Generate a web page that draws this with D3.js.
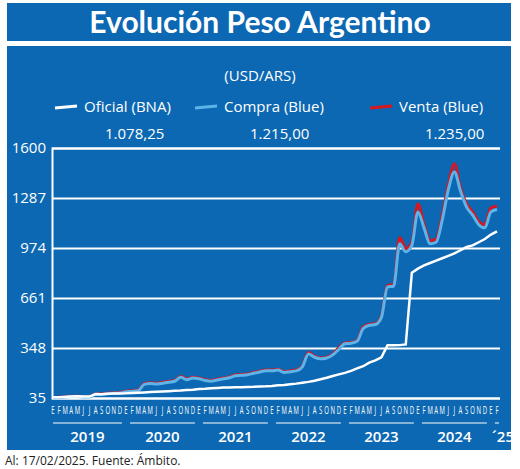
<!DOCTYPE html><html><head><meta charset="utf-8"><script src="https://cdn.jsdelivr.net/npm/d3@7"></script>
<style>body{margin:0;background:#fff}</style></head><body><svg id="c" width="520" height="469"></svg>
<script>
const months=["E","F","M","A","M","J","J","A","S","O","N","D"];
const years=["2019","2020","2021","2022","2023","2024","´25"];
const yTicks=[35,348,661,974,1287,1600];
// monthly values Jan 2019 .. Feb 2025
const oficial=[39,39,42,45,46,44,44,60,59,61,63,63, 64,66,68,70,72,74,76,78,80,82,85,87, 91,93,96,98,100,101,102,103,104,105,107,108, 110,115,117,121,125,131,136,143,152,162,173,183, 192,205,220,234,256,270,290,365,365,366,370,820, 845,865,880,895,910,925,940,960,980,990,1010,1030, 1058,1078.25];
const compra=[37,38,42,44,44,42,42,57,57,62,64,66, 74,76,80,120,125,122,128,134,140,165,150,160, 155,145,140,148,155,162,175,177,180,190,198,205, 205,210,195,200,205,230,310,290,280,285,305,340, 375,378,390,470,490,495,540,730,735,1000,950,990, 1200,1100,1000,1010,1150,1340,1450,1330,1230,1180,1120,1100, 1200,1215];
const venta=[38,40,44,46,46,44,44,60,60,65,67,69, 78,80,84,125,130,127,133,139,145,170,155,165, 160,150,145,152,160,166,180,182,185,195,203,210, 210,215,200,205,210,235,320,295,285,290,310,350, 380,382,395,480,495,500,550,740,745,1040,970,1010, 1250,1120,1020,1030,1180,1370,1500,1350,1250,1200,1140,1120, 1225,1235];
const legend=[{n:"Oficial (BNA)",c:"#ffffff",v:"1.078,25",x:55},{n:"Compra (Blue)",c:"#5db4e8",v:"1.215,00",x:195},{n:"Venta (Blue)",c:"#d7161f",v:"1.235,00",x:370}];
const svg=d3.select("#c"),BLUE="#0c68b2",F="'Open Sans',sans-serif";
svg.append("rect").attr("x",7).attr("y",3).attr("width",504).attr("height",38).attr("fill",BLUE);
svg.append("text").attr("x",260).attr("y",33).attr("text-anchor","middle").attr("fill","#fff").attr("font-family","Lato,sans-serif").attr("font-weight","bold").attr("font-size",30).text("Evolución Peso Argentino");
svg.append("rect").attr("x",7).attr("y",46).attr("width",504).attr("height",404).attr("fill",BLUE);
svg.append("text").attr("x",260).attr("y",81).attr("text-anchor","middle").attr("fill","#fff").attr("font-family",F).attr("font-size",15).text("(USD/ARS)");
legend.forEach(l=>{const g=svg.append("g");
 g.append("line").attr("x1",l.x).attr("x2",l.x+22).attr("y1",108).attr("y2",106).attr("stroke",l.c).attr("stroke-width",3);
 g.append("text").attr("x",l.x+29).attr("y",112).attr("fill","#fff").attr("font-family",F).attr("font-size",15).text(l.n);
 g.append("text").attr("x",l.x+(l.x==55?50:55)).attr("y",139).attr("fill","#fff").attr("font-family",F).attr("font-size",15).text(l.v);});
const x=d3.scaleLinear().domain([0,73]).range([53,497]);
const y=d3.scaleLinear().domain([35,1600]).range([398,148]);
const ga=svg.append("g").attr("transform","translate(52,0)").call(d3.axisLeft(y).tickValues(yTicks).tickSize(-448).tickFormat(d=>d));
ga.select(".domain").attr("stroke","#fff").attr("stroke-width",2);
ga.selectAll(".tick line").attr("stroke","#fff").attr("stroke-width",2);
ga.selectAll(".tick text").attr("fill","#fff").attr("font-family",F).attr("font-size",15).attr("x",-6);
const line=d3.line().x((d,i)=>x(i)).y(d=>y(d)).curve(d3.curveMonotoneX);
svg.append("path").attr("d",line(venta)).attr("fill","none").attr("stroke","#d7161f").attr("stroke-width",3);
svg.append("path").attr("d",line(compra)).attr("fill","none").attr("stroke","#5db4e8").attr("stroke-width",3);
svg.append("path").attr("d",d3.line().x((d,i)=>x(i)).y(d=>y(d))(oficial)).attr("fill","none").attr("stroke","#fff").attr("stroke-width",2.5);
for(let i=0;i<74;i++)svg.append("text").attr("x",x(i)).attr("y",414).attr("text-anchor","middle").attr("fill","#fff").attr("font-family",F).attr("font-size",10).attr("transform",`translate(${x(i)},0) scale(0.6,1) translate(${-x(i)},0)`).text(months[i%12]);
years.forEach((yr,k)=>{const a=x(k*12)+(k?4:0),b=Math.min(x(k*12+11)+2,x(73)+2);
 svg.append("line").attr("x1",a).attr("x2",b).attr("y1",423).attr("y2",423).attr("stroke","#fff").attr("stroke-width",1);
 svg.append("text").attr("x",k==6?503:(a+b)/2).attr("y",442).attr("text-anchor","middle").attr("fill","#fff").attr("font-family",F).attr("font-weight",600).attr("font-size",15).text(yr);});
svg.append("text").attr("x",5).attr("y",465).attr("fill","#222").attr("font-family",F).attr("font-size",12).text("Al: 17/02/2025. Fuente: Ámbito.");
</script></body></html>
